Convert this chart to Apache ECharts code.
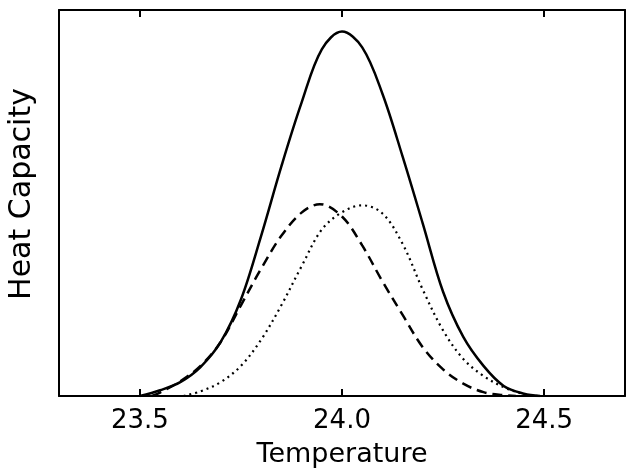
<!DOCTYPE html>
<html>
<head>
<meta charset="utf-8">
<script src="https://cdn.jsdelivr.net/npm/echarts@6/dist/echarts.min.js"></script>
<style>
html,body{margin:0;padding:0;background:#fff;}
#chart{width:627px;height:468px;}
</style>
</head>
<body>
<div id="chart"></div>
<script>
// Values
var xTicks = [23.5, 24.0, 24.5];

var totalT = [23.50, 23.55, 23.60, 23.65, 23.70, 23.75, 23.80, 23.85, 23.90, 23.95, 24.00, 24.05, 24.10, 24.15, 24.20, 24.25, 24.30, 24.35, 24.40, 24.45, 24.49];
var totalV = [0, 1.5, 3.6, 7.5, 14.0, 25.0, 41.5, 59.5, 76.0, 89.8, 94.4, 90.3, 78.3, 62.0, 44.6, 27.0, 15.3, 7.8, 2.6, 0.6, 0];

var lowT = [23.53, 23.55, 23.60, 23.65, 23.70, 23.75, 23.80, 23.85, 23.90, 23.945, 24.00, 24.05, 24.10, 24.15, 24.20, 24.25, 24.30, 24.35, 24.40, 24.43];
var lowV = [0, 0.9, 3.8, 7.8, 14.0, 23.5, 33.0, 41.5, 47.5, 49.7, 46.5, 39.0, 29.7, 21.0, 12.6, 6.9, 3.2, 1.0, 0.2, 0];

var highT = [23.608, 23.65, 23.70, 23.75, 23.80, 23.85, 23.90, 23.95, 24.00, 24.05, 24.10, 24.15, 24.20, 24.25, 24.30, 24.35, 24.40, 24.45, 24.485];
var highV = [0, 1.2, 3.6, 7.8, 14.6, 23.5, 33.6, 43.1, 47.6, 49.4, 47.3, 39.4, 27.5, 17.0, 9.6, 5.2, 2.3, 0.5, 0];

function pairs(t, v) { return t.map(function (x, i) { return [x, v[i]]; }); }

var FONT = 'DejaVu Sans';
var chart = echarts.init(document.getElementById('chart'), null, {renderer: 'canvas'});
chart.setOption({
  animation: false,
  backgroundColor: '#ffffff',
  grid: {left: 59, right: 2, top: 10, bottom: 72, containLabel: false, outerBoundsMode: 'none'},
  xAxis: [{
    type: 'value', min: 23.3, max: 24.7,
    axisLine: {show: true, onZero: false, lineStyle: {color: '#000', width: 2}},
    axisTick: {show: true, inside: true, length: 7, lineStyle: {color: '#000', width: 2}, customValues: xTicks},
    axisLabel: {show: true, color: '#000', fontFamily: FONT, fontSize: 26, margin: 12,
      customValues: xTicks,
      formatter: function (v) { return v.toFixed(1); }},
    splitLine: {show: false},
    name: 'Temperature', nameLocation: 'middle', nameGap: 45,
    nameTextStyle: {color: '#000', fontFamily: FONT, fontSize: 27}
  }, {
    type: 'value', position: 'top', min: 23.3, max: 24.7,
    axisLine: {show: true, onZero: false, lineStyle: {color: '#000', width: 2}},
    axisTick: {show: true, inside: true, length: 7, lineStyle: {color: '#000', width: 2}, customValues: xTicks},
    axisLabel: {show: false},
    splitLine: {show: false}
  }],
  yAxis: [{
    type: 'value', min: 0, max: 100,
    axisLine: {show: true, onZero: false, lineStyle: {color: '#000', width: 2}},
    axisTick: {show: false}, axisLabel: {show: false}, splitLine: {show: false},
    name: 'Heat Capacity', nameLocation: 'middle', nameGap: 22, nameRotate: 90,
    nameTextStyle: {color: '#000', fontFamily: FONT, fontSize: 30, padding: [0, 0, 0, 18]}
  }, {
    type: 'value', position: 'right', min: 0, max: 100,
    axisLine: {show: true, onZero: false, lineStyle: {color: '#000', width: 2}},
    axisTick: {show: false}, axisLabel: {show: false}, splitLine: {show: false}
  }],
  series: [{
    name: 'total', type: 'line', data: pairs(totalT, totalV), smooth: 0.35,
    showSymbol: false, lineStyle: {color: '#000', width: 2.5, type: 'solid'}
  }, {
    name: 'low', type: 'line', data: pairs(lowT, lowV), smooth: 0.35,
    showSymbol: false, lineStyle: {color: '#000', width: 2.5, type: [10, 6]}
  }, {
    name: 'high', type: 'line', data: pairs(highT, highV), smooth: 0.35,
    showSymbol: false, lineStyle: {color: '#000', width: 2.2, type: [2, 4]}
  }]
});
</script>
</body>
</html>
